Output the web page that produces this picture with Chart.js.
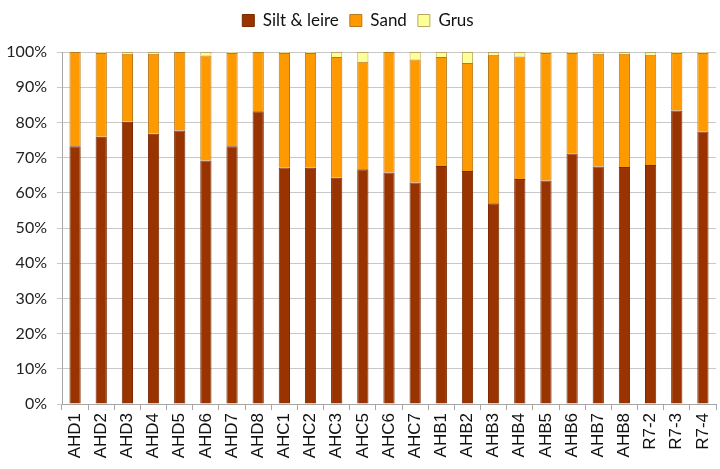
<!DOCTYPE html>
<html>
<head>
<meta charset="utf-8">
<script src="https://cdn.jsdelivr.net/npm/chart.js@4/dist/chart.umd.min.js"></script>
<style>
html,body{margin:0;padding:0;background:#fff;}
#wrap{width:720px;height:469px;position:relative;}
</style>
</head>
<body>
<div id="wrap"><canvas id="c" width="720" height="469"></canvas></div>
<script>
const categories = ["AHD1","AHD2","AHD3","AHD4","AHD5","AHD6","AHD7","AHD8","AHC1","AHC2","AHC3","AHC5","AHC6","AHC7","AHB1","AHB2","AHB3","AHB4","AHB5","AHB6","AHB7","AHB8","R7-2","R7-3","R7-4"];
const siltLeire = [73.2,75.9,80.2,76.8,77.7,69.2,73.2,83.2,67.2,67.1,64.3,66.7,65.8,62.9,67.6,66.2,57.0,63.9,63.5,71.2,67.5,67.3,67.9,83.4,77.4];
const sand = [26.8,23.8,19.3,22.7,22.3,29.8,26.5,16.8,32.5,32.6,34.3,30.5,34.2,35.0,31.0,30.7,42.2,34.8,36.2,28.5,32.0,32.2,31.3,16.3,22.3];
const grus = [0,0.3,0.5,0.5,0,1.0,0.3,0,0.3,0.3,1.4,2.8,0,2.1,1.4,3.1,0.8,1.3,0.3,0.3,0.5,0.5,0.8,0.3,0.3];
const yTicks = [0,10,20,30,40,50,60,70,80,90,100];

const common = {barPercentage:0.43, categoryPercentage:1.0, borderWidth:1};

const legendSpace = {
  id:'legendSpace',
  afterInit(chart){
    const lg = chart.legend;
    if(!lg) return;
    const f = lg.fit.bind(lg);
    lg.fit = function(){ f(); this.height += 13; };
  }
};

new Chart(document.getElementById('c'), {
  type:'bar',
  data:{
    labels:categories,
    datasets:[
      Object.assign({label:'Silt & leire', data:siltLeire, backgroundColor:'#993300', borderColor:'#7a2900'}, common),
      Object.assign({label:'Sand', data:sand, backgroundColor:'#FF9900', borderColor:'#b87a1a'}, common),
      Object.assign({label:'Grus', data:grus, backgroundColor:'#FFFF99', borderColor:'#b8a860'}, common)
    ]
  },
  plugins:[legendSpace],
  options:{
    responsive:false,
    animation:false,
    layout:{padding:{left:0,right:4,top:1,bottom:0}},
    plugins:{
      legend:{
        position:'top',
        labels:{usePointStyle:true, pointStyle:'rect', pointStyleWidth:12, boxWidth:12, boxHeight:12, padding:11, color:'#111', font:{family:'Lato', size:17}},
        onClick:null
      },
      tooltip:{enabled:false}
    },
    scales:{
      x:{
        stacked:true,
        afterFit:(s)=>{s.height = 65; s.paddingRight = 0; s.paddingLeft = 0;},
        border:{color:'#a6a6a6'},
        grid:{display:true, drawOnChartArea:false, offset:true, color:'#a6a6a6', tickLength:6},
        ticks:{color:'#111', font:{family:'Liberation Sans', size:17}, minRotation:90, maxRotation:90, padding:3, autoSkip:false}
      },
      y:{
        stacked:true,
        min:0, max:100,
        afterFit:(s)=>{s.width = 62; s.paddingTop = 0; s.paddingBottom = 0;},
        afterBuildTicks:(ax)=>{ax.ticks = yTicks.map(v=>({value:v}));},
        border:{color:'#a6a6a6'},
        grid:{color:'#c8c8c8', tickLength:5},
        ticks:{color:'#222', font:{family:'Lato', size:16}, padding:10, callback:(v)=>v+'%'}
      }
    }
  }
});
</script>
</body>
</html>
